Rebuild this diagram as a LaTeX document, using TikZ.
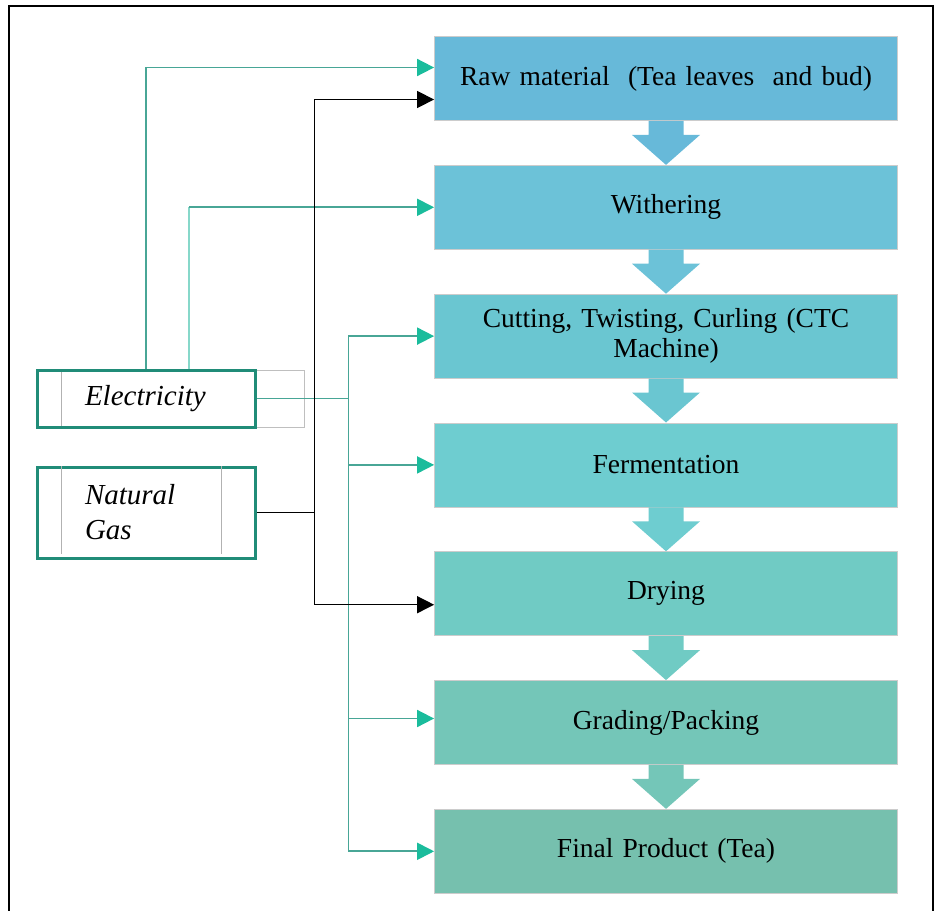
\documentclass[tikz,border=0pt]{standalone}
\usepackage{fontspec}
\setmainfont{Liberation Serif}
\definecolor{stepA}{RGB}{103,185,217}
\definecolor{stepB}{RGB}{108,194,216}
\definecolor{stepC}{RGB}{106,198,209}
\definecolor{stepD}{RGB}{110,205,208}
\definecolor{stepE}{RGB}{112,203,196}
\definecolor{stepF}{RGB}{116,198,184}
\definecolor{stepG}{RGB}{118,192,174}
\definecolor{srcteal}{RGB}{32,140,120}
\definecolor{linkteal}{RGB}{72,166,150}
\definecolor{paleteal}{RGB}{135,216,202}
\definecolor{tipteal}{RGB}{26,188,156}
\usetikzlibrary{positioning,arrows.meta}
\tikzset{
  stagebox/.style={draw=black!20,line width=0.8pt,minimum width=463pt,minimum height=84pt,
                   text width=440pt,align=center,inner sep=0pt,
                   font=\fontsize{27.5}{30}\selectfont},
  srcbox/.style={draw=srcteal,line width=3pt,minimum width=218pt,inner sep=0pt,
                 text width=122pt,align=left,font=\fontsize{29}{35}\selectfont\itshape},
  elink/.style={linkteal,line width=1.8pt,-{Triangle[length=17pt,width=17pt,color=tipteal]}},
  plink/.style={paleteal,line width=1.8pt},
  glink/.style={black,line width=1.3pt,-{Triangle[length=17pt,width=17pt]}},
}
\begin{document}
\begin{tikzpicture}[x=1pt,y=-1pt]
  \useasboundingbox (0,0) rectangle (936,910);
  \draw[line width=1.2pt] (9,912) -- (9,6) -- (933,6) -- (933,912);

  \node[stagebox,fill=stepA] (raw) at (666,78.5) {Raw material\ \ (Tea leaves\ \ and bud)};
  \node[stagebox,fill=stepB,below=44pt of raw] (wither) {Withering};
  \node[stagebox,fill=stepC,below=44pt of wither] (cut) {Cutting,\ Twisting,\ Curling\ (CTC\\Machine)};
  \node[stagebox,fill=stepD,below=44pt of cut] (ferm) {Fermentation};
  \node[stagebox,fill=stepE,below=44pt of ferm] (dry) {Drying};
  \node[stagebox,fill=stepF,below=44pt of dry] (grade) {Grading/Packing};
  \node[stagebox,fill=stepG,below=44pt of grade] (final) {Final Product (Tea)};

  \foreach \a/\b/\c in {raw/wither/stepA,wither/cut/stepB,cut/ferm/stepC,ferm/dry/stepD,
                        dry/grade/stepE,grade/final/stepF}
    \fill[\c] ([xshift=-17.5pt]\a.south) -- ([xshift=-17.5pt,yshift=30pt]\b.north)
      -- ([xshift=-34pt,yshift=30pt]\b.north) -- (\b.north)
      -- ([xshift=34pt,yshift=30pt]\b.north) -- ([xshift=17.5pt,yshift=30pt]\b.north)
      -- ([xshift=17.5pt]\a.south) -- cycle;

  \draw[black!25,line width=0.6pt] (37,370) rectangle (304,427);
  \node[srcbox,minimum height=57pt] (elec) at (146,398.5) {Electricity};
  \node[srcbox,minimum height=91pt,below=37pt of elec] (gas) {Natural\\Gas};
  \draw[black!30,line width=0.6pt] (61,372) -- (61,426);
  \draw[black!30,line width=0.6pt] (61,466) -- (61,554) (221,466) -- (221,554);

  \coordinate (ebus) at ([xshift=92pt]elec.east);
  \coordinate (gbus) at ([xshift=58pt]gas.east);
  \coordinate (ebend) at ([xshift=43pt]elec.north |- wither.west);

  \draw[elink] (elec.north) |- ([yshift=11pt]raw.west);
  \draw[plink] ([xshift=43pt]elec.north) -- (ebend);
  \draw[elink] (ebend) -- (wither.west);
  \draw[elink,-] (elec.east) -- (ebus);
  \draw[elink] (ebus) |- (cut.west);
  \draw[elink] (ebus) |- (ferm.west);
  \draw[elink] (ebus) |- ([yshift=4pt]grade.west);
  \draw[elink] (ebus) |- (final.west);

  \draw[black,line width=1.3pt] (gas.east) -- (gbus);
  \draw[glink] (gbus) |- ([yshift=-21pt]raw.west);
  \draw[glink] (gbus) |- ([yshift=-11pt]dry.west);
\end{tikzpicture}
\end{document}
